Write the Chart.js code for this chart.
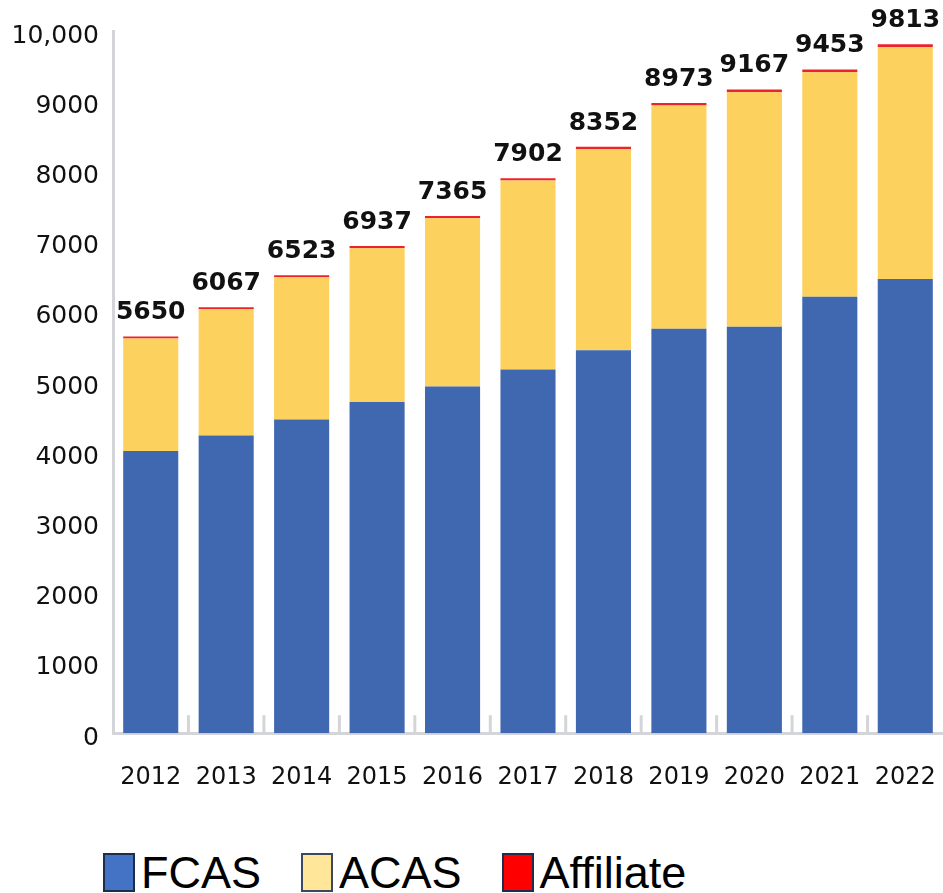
<!DOCTYPE html>
<html>
<head>
<meta charset="utf-8">
<script src="https://cdn.jsdelivr.net/npm/chart.js@4"></script>
<style>
    body { margin: 0; background: #fff; }
    #wrap { position: relative; width: 943px; height: 893px; overflow: hidden; }
    .legend {
        position: absolute; top: 850px; left: 103px;
        display: flex; align-items: center;
        font-family: "Liberation Sans", Arial, sans-serif; font-size: 45px; color: #000;
        line-height: 1;
    }
    .item { display: flex; align-items: center; margin-right: 40px; }
    .box { width: 28px; height: 35px; border: 2px solid #1f2d4d; margin-right: 6px; }
</style>
</head>
<body>
<div id="wrap">
    <canvas id="chart" width="943" height="830"></canvas>
    <div class="legend">
        <div class="item"><span class="box" style="background:#4472c4"></span>FCAS</div>
        <div class="item"><span class="box" style="background:#ffe699;border-color:#3b4763"></span>ACAS</div>
        <div class="item"><span class="box" style="background:#ff0000"></span>Affiliate</div>
    </div>
</div>
<script>
// Membership counts per year
const years = ['2012', '2013', '2014', '2015', '2016', '2017', '2018', '2019', '2020', '2021', '2022'];
const fcas = [4020, 4238, 4466, 4718, 4937, 5179, 5455, 5759, 5788, 6215, 6467];
const acas = [1602, 1801, 2027, 2189, 2396, 2691, 2862, 3179, 3341, 3198, 3304];
const affiliate = [28, 28, 30, 30, 32, 32, 35, 35, 38, 40, 42];
const totals = [5650, 6067, 6523, 6937, 7365, 7902, 8352, 8973, 9167, 9453, 9813];
const yTickLabels = ['0', '1000', '2000', '3000', '4000', '5000', '6000', '7000', '8000', '9000', '10,000'];

const axisGrey = '#d3d5d9';

// Total value above each stacked bar
const totalLabels = {
    id: 'totalLabels',
    afterDatasetsDraw(chart) {
        const ctx = chart.ctx;
        const meta = chart.getDatasetMeta(2);
        ctx.save();
        ctx.font = 'bold 25px "DejaVu Sans"';
        ctx.fillStyle = '#111';
        ctx.textAlign = 'center';
        ctx.textBaseline = 'alphabetic';
        meta.data.forEach((bar, i) => {
            ctx.fillText(String(totals[i]), bar.x, bar.y - 17);
        });
        ctx.restore();
    }
};

// Short ticks pointing up from the x axis, between the bars
const upTicks = {
    id: 'upTicks',
    afterDraw(chart) {
        const ctx = chart.ctx;
        const xScale = chart.scales.x;
        const bottom = chart.chartArea.bottom;
        const step = xScale.width / years.length;
        ctx.save();
        ctx.strokeStyle = axisGrey;
        ctx.lineWidth = 3;
        for (let i = 1; i < years.length; i++) {
            const px = xScale.getPixelForValue(i) - step / 2;
            ctx.beginPath();
            ctx.moveTo(px, bottom);
            ctx.lineTo(px, bottom - 18);
            ctx.stroke();
        }
        ctx.restore();
    }
};

const barOpts = { barPercentage: 0.73, categoryPercentage: 1.0, borderWidth: 0 };

new Chart(document.getElementById('chart').getContext('2d'), {
    type: 'bar',
    data: {
        labels: years,
        datasets: [
            { label: 'FCAS', data: fcas, backgroundColor: 'rgb(63, 104, 177)', ...barOpts },
            { label: 'ACAS', data: acas, backgroundColor: 'rgb(253, 209, 94)', ...barOpts },
            { label: 'Affiliate', data: affiliate, backgroundColor: 'rgb(237, 35, 40)', ...barOpts },
        ],
    },
    options: {
        responsive: false,
        animation: false,
        layout: { padding: { top: 31, right: 0, bottom: 8, left: 0 } },
        plugins: {
            legend: { display: false },
            tooltip: { enabled: false },
        },
        scales: {
            x: {
                stacked: true,
                grid: { display: false, drawTicks: false },
                border: { color: axisGrey, width: 3 },
                ticks: {
                    font: { family: 'DejaVu Sans', size: 24 },
                    color: '#111',
                    padding: 30,
                    maxRotation: 0,
                },
                // no extra room for the last label, the plot runs to the edge
                afterFit(scale) { scale.paddingRight = 0; scale.paddingLeft = 0; },
            },
            y: {
                stacked: true,
                min: 0,
                max: 10000,
                grid: { display: false, drawTicks: false },
                border: { color: axisGrey, width: 3 },
                ticks: {
                    stepSize: 1000,
                    font: { family: 'DejaVu Sans', size: 25 },
                    color: '#111',
                    padding: 14,
                    labelOffset: 5,
                    callback: (v, i) => yTickLabels[i],
                },
                afterFit(scale) { scale.width = 113; },
            },
        },
    },
    plugins: [totalLabels, upTicks],
});
</script>
</body>
</html>
